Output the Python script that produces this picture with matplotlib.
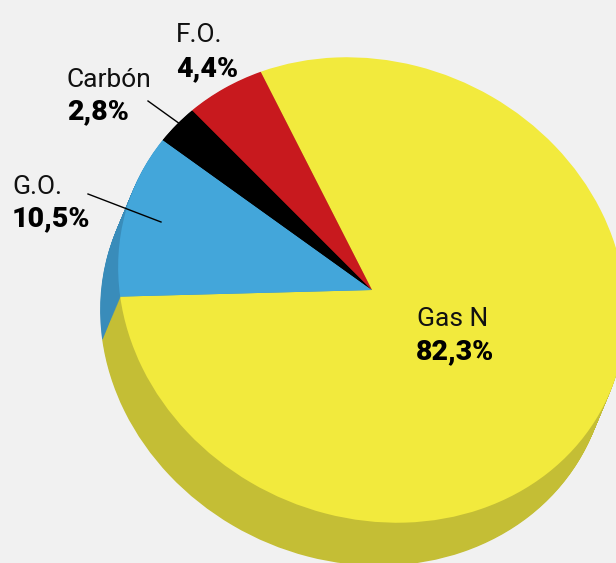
import matplotlib
matplotlib.use('Agg')
import matplotlib.pyplot as plt
from matplotlib.transforms import Affine2D

names = ['Gas N', 'G.O.', 'Carbón', 'F.O.']
labels = ['82,3%', '10,5%', '2,8%', '4,4%']
# slice sizes as drawn in the picture, they are not quite the printed percentages
drawn = [80.2, 11.6, 2.9, 5.3]

top_colors = ['#F2EA3D', '#43A6DA', '#000000', '#C8191E']
side_colors = ['#C4BE35', '#398CBA', '#000000', '#C8191E']

W, H = 616, 563
fig = plt.figure(figsize=(W / 100, H / 100), dpi=100, facecolor='#F1F1F1')
ax = fig.add_axes([0, 0, 1, 1])


def draw_pie(colors, dx, dy):
    # tilted ellipse, everything goes through one transform
    tr = Affine2D().scale(259, 227).rotate_deg(-24.3).translate(372 + dx, H - 290 - dy)
    wedges, _ = ax.pie(drawn, colors=colors, startangle=137.6, counterclock=False,
                       wedgeprops={'linewidth': 0})
    for w in wedges:
        w.set_transform(tr + ax.transData)


# side of the pie: stacked copies from the bottom up
for i in range(44, 0, -1):
    draw_pie(side_colors, -18 * i / 44, 43 * i / 44)
draw_pie(top_colors, 0, 0)

ax.set_xlim(0, W)
ax.set_ylim(0, H)
ax.set_aspect('auto')
ax.axis('off')

ax.plot([148, 180], [H - 101, H - 124], color='black', lw=1)
ax.plot([88, 161], [H - 194, H - 222], color='black', lw=1)

name_pos = [(417, 326), (12, 194), (67, 87), (176, 42)]
value_pos = [(416, 359), (12, 226), (67, 119), (176, 76)]
for name, label, p, q in zip(names, labels, name_pos, value_pos):
    ax.text(p[0], H - p[1], name, family='Roboto', fontsize=19, va='baseline', color='#111111')
    ax.text(q[0], H - q[1], label, family='Roboto', fontsize=20.5, fontweight=900,
            va='baseline', color='black')

fig.savefig('out.png', dpi=100, facecolor=fig.get_facecolor())
